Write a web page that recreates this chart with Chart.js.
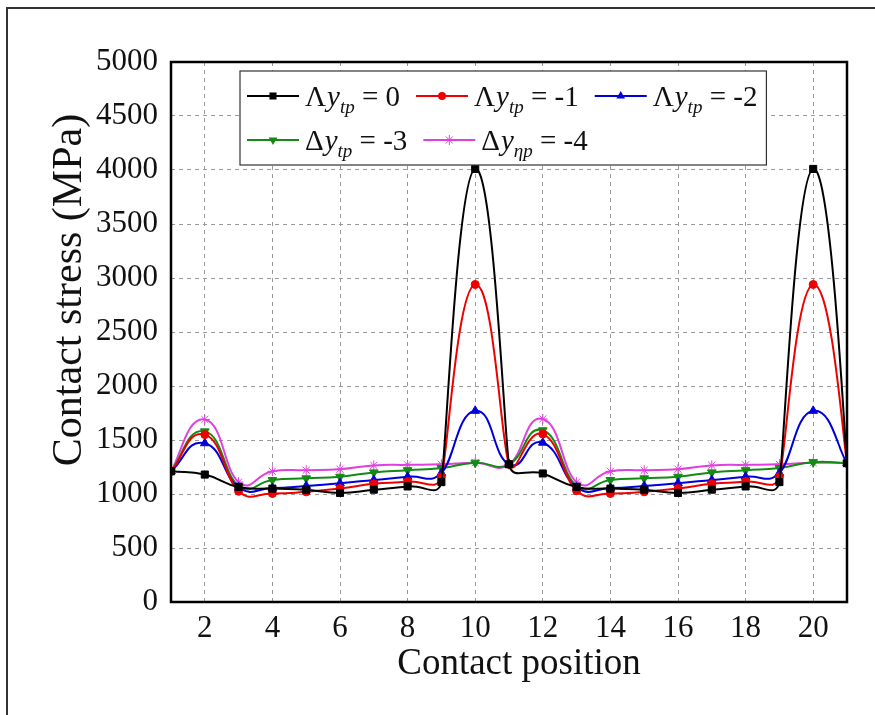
<!DOCTYPE html>
<html>
<head>
<meta charset="utf-8">
<script src="https://cdn.jsdelivr.net/npm/chart.js@4/dist/chart.umd.min.js"></script>
<style>
  body { margin: 0; background: #fff; }
  #wrap { position: relative; width: 875px; height: 715px; }
  #frame { position: absolute; left: 6px; top: 7px; right: 0; bottom: 0;
           border-left: 2px solid #333; border-top: 2px solid #333; pointer-events: none; }
  canvas { position: absolute; left: 0; top: 0; }
</style>
</head>
<body>
<div id="wrap">
  <canvas id="chart" width="875" height="715"></canvas>
  <div id="frame"></div>
</div>
<script>
// Contact stress vs contact position

const positions = [1, 2, 3, 4, 5, 6, 7, 8, 9, 10, 11, 12, 13, 14, 15, 16, 17, 18, 19, 20, 21];
const xTicks = [2, 4, 6, 8, 10, 12, 14, 16, 18, 20];

const dy0 = [1210, 1180, 1065, 1050, 1040, 1010, 1040, 1070, 1110, 4010, 1275, 1190, 1065, 1050, 1040, 1010, 1040, 1070, 1110, 4010, 1285];
const dy1 = [1210, 1550, 1025, 1005, 1020, 1050, 1095, 1115, 1160, 2940, 1275, 1555, 1030, 1005, 1020, 1050, 1095, 1115, 1160, 2940, 1285];
const dy2 = [1210, 1470, 1060, 1055, 1075, 1100, 1130, 1160, 1195, 1770, 1275, 1475, 1060, 1055, 1075, 1100, 1130, 1160, 1195, 1770, 1285];
const dy3 = [1210, 1580, 1075, 1130, 1145, 1160, 1200, 1220, 1240, 1290, 1275, 1590, 1075, 1130, 1145, 1160, 1200, 1220, 1240, 1295, 1285];
const dy4 = [1210, 1690, 1110, 1210, 1220, 1230, 1265, 1270, 1275, 1290, 1275, 1695, 1110, 1210, 1220, 1230, 1265, 1270, 1275, 1290, 1285];

// legend text pieces: symbol, subscript, value
const legendSymbols = ["Λ", "Λ", "Λ", "Δ", "Δ"];
const legendSubs = ["tp", "tp", "tp", "tp", "ηp"];
const legendValues = ["0", "-1", "-2", "-3", "-4"];

const xTitle = "Contact position";
const yTitle = "Contact stress (MPa)";

const colors = ["#000000", "#ee0000", "#0000dd", "#138a13", "#e040e0"];
const styles = ["rect", "circle", "triangle", "triangle", "star"];
const rotations = [0, 0, 0, 180, 0];
const radii = [5, 4, 5, 5, 5];

const serif = "'Liberation Serif', 'Times New Roman', serif";

const seriesValues = [dy0, dy1, dy2, dy3, dy4];

function toPoints(vals) {
  return vals.map((v, i) => ({ x: positions[i], y: v }));
}

function drawMarker(ctx, style, x, y, r, rot, color) {
  ctx.save();
  ctx.fillStyle = color;
  ctx.strokeStyle = color;
  ctx.lineWidth = 1;
  ctx.beginPath();
  if (style === "rect") {
    const s = r * Math.SQRT1_2;
    ctx.rect(x - s, y - s, 2 * s, 2 * s);
    ctx.fill();
  } else if (style === "circle") {
    ctx.arc(x, y, r, 0, Math.PI * 2);
    ctx.fill();
  } else if (style === "triangle") {
    const d = rot === 180 ? -1 : 1;
    ctx.moveTo(x, y - d * r);
    ctx.lineTo(x - r * 0.87, y + d * r * 0.5);
    ctx.lineTo(x + r * 0.87, y + d * r * 0.5);
    ctx.closePath();
    ctx.fill();
  } else {
    for (let k = 0; k < 4; k++) {
      const a = k * Math.PI / 4;
      ctx.moveTo(x - r * Math.sin(a), y - r * Math.cos(a));
      ctx.lineTo(x + r * Math.sin(a), y + r * Math.cos(a));
    }
    ctx.stroke();
  }
  ctx.restore();
}

// spline look of the original plot: handles along the neighbour direction,
// with a length tied to the x spacing rather than the chord
const splineHandles = {
  id: "splineHandles",
  beforeDatasetDraw(chart, args) {
    const line = args.meta.dataset;
    const pts = args.meta.data;
    line.updateControlPoints(chart.chartArea, "x");
    for (let i = 0; i < pts.length; i++) {
      const p = pts[i];
      const prev = pts[i - 1] || p;
      const next = pts[i + 1] || p;
      let tx = next.x - prev.x, ty = next.y - prev.y;
      const n = Math.hypot(tx, ty) || 1;
      tx /= n; ty /= n;
      const gaps = (pts[i - 1] ? 1 : 0) + (pts[i + 1] ? 1 : 0);
      const dx = (next.x - prev.x) / gaps;
      const dPrev = Math.hypot(p.x - prev.x, p.y - prev.y);
      const dNext = Math.hypot(next.x - p.x, next.y - p.y);
      const lPrev = Math.min(0.55 * dx, 0.5 * dPrev);
      const lNext = Math.min(0.55 * dx, 0.5 * dNext);
      p.cp1x = p.x - tx * lPrev;
      p.cp1y = p.y - ty * lPrev;
      p.cp2x = p.x + tx * lNext;
      p.cp2y = p.y + ty * lNext;
    }
  }
};

const boxAndLegend = {
  id: "boxAndLegend",
  afterDraw(chart) {
    const { ctx, chartArea: a } = chart;
    ctx.save();
    ctx.strokeStyle = "#000";
    ctx.lineWidth = 2.5;
    ctx.strokeRect(a.left, a.top, a.right - a.left, a.bottom - a.top);

    // axis titles
    ctx.fillStyle = "#111";
    ctx.textAlign = "center";
    ctx.textBaseline = "middle";
    ctx.font = "37px " + serif;
    ctx.fillText(xTitle, 519, 664);
    ctx.save();
    ctx.translate(70, 290);
    ctx.rotate(-Math.PI / 2);
    ctx.font = "42px " + serif;
    ctx.fillText(yTitle, 0, 0);
    ctx.restore();

    const big = "29px " + serif;
    const bigItalic = "italic 29px " + serif;
    const small = "italic 19px " + serif;

    function entryWidth(i) {
      ctx.font = big;
      let w = ctx.measureText(legendSymbols[i]).width + 1;
      w += ctx.measureText(" = " + legendValues[i]).width;
      ctx.font = bigItalic;
      w += ctx.measureText("y").width;
      ctx.font = small;
      w += ctx.measureText(legendSubs[i]).width;
      return 58 + w;
    }

    const rows = [[0, 1, 2], [3, 4]];
    const rowY = [96, 140];
    const gap = 16;
    const lx = 240, ly = 71, lh = 94;
    const rowWidth = rows[0].reduce((s, i) => s + entryWidth(i), 0) + gap * 2;
    const lw = rowWidth + 16;

    ctx.fillStyle = "#fff";
    ctx.fillRect(lx, ly, lw, lh);
    ctx.strokeStyle = "#333";
    ctx.lineWidth = 1.2;
    ctx.strokeRect(lx, ly, lw, lh);

    ctx.textBaseline = "alphabetic";
    ctx.textAlign = "left";
    rows.forEach((row, ri) => {
      let x = lx + 7;
      const y = rowY[ri];
      row.forEach(i => {
        ctx.strokeStyle = colors[i];
        ctx.lineWidth = 2;
        ctx.beginPath();
        ctx.moveTo(x, y);
        ctx.lineTo(x + 52, y);
        ctx.stroke();
        drawMarker(ctx, styles[i], x + 26, y, radii[i], rotations[i], colors[i]);
        x += 58;
        const base = y + 10;
        ctx.fillStyle = "#111";
        ctx.font = big;
        ctx.fillText(legendSymbols[i], x, base);
        x += ctx.measureText(legendSymbols[i]).width + 1;
        ctx.font = bigItalic;
        ctx.fillText("y", x, base);
        x += ctx.measureText("y").width;
        ctx.font = small;
        ctx.fillText(legendSubs[i], x, base + 7);
        x += ctx.measureText(legendSubs[i]).width;
        ctx.font = big;
        const rest = " = " + legendValues[i];
        ctx.fillText(rest, x, base);
        x += ctx.measureText(rest).width + gap;
      });
    });
    ctx.restore();
  }
};

const ctx = document.getElementById("chart");

new Chart(ctx, {
  type: "line",
  data: {
    datasets: seriesValues.map((vals, i) => ({
      label: legendSymbols[i] + "y" + legendSubs[i] + " = " + legendValues[i],
      data: toPoints(vals),
      borderColor: colors[i],
      backgroundColor: colors[i],
      borderWidth: 2,
      tension: 0.4,
      pointStyle: styles[i],
      pointRotation: rotations[i],
      pointRadius: radii[i],
      pointBorderWidth: 1,
      fill: false,
    })),
  },
  options: {
    responsive: false,
    animation: false,
    layout: { padding: { left: 0, top: 62, right: 28, bottom: 0 } },
    plugins: {
      legend: { display: false },
      tooltip: { enabled: false },
    },
    scales: {
      x: {
        type: "linear",
        min: 1,
        max: 21,
        afterBuildTicks: (scale) => {
          scale.ticks = xTicks.map(v => ({ value: v }));
        },
        afterFit: (scale) => { scale.height = 113; },
        grid: { color: "#999999", lineWidth: 1, drawTicks: false },
        border: { display: false, dash: [4, 4] },
        ticks: {
          padding: 8,
          color: "#111",
          font: { family: serif, size: 31 },
          maxRotation: 0,
          callback: (v) => String(v),
        },
      },
      y: {
        min: 0,
        max: 5000,
        afterFit: (scale) => { scale.width = 171; },
        grid: { color: "#999999", lineWidth: 1, drawTicks: false },
        border: { display: false, dash: [4, 4] },
        ticks: {
          stepSize: 500,
          padding: 13,
          color: "#111",
          font: { family: serif, size: 31 },
          callback: (v) => String(v),
        },
      },
    },
  },
  plugins: [splineHandles, boxAndLegend],
});
</script>
</body>
</html>
